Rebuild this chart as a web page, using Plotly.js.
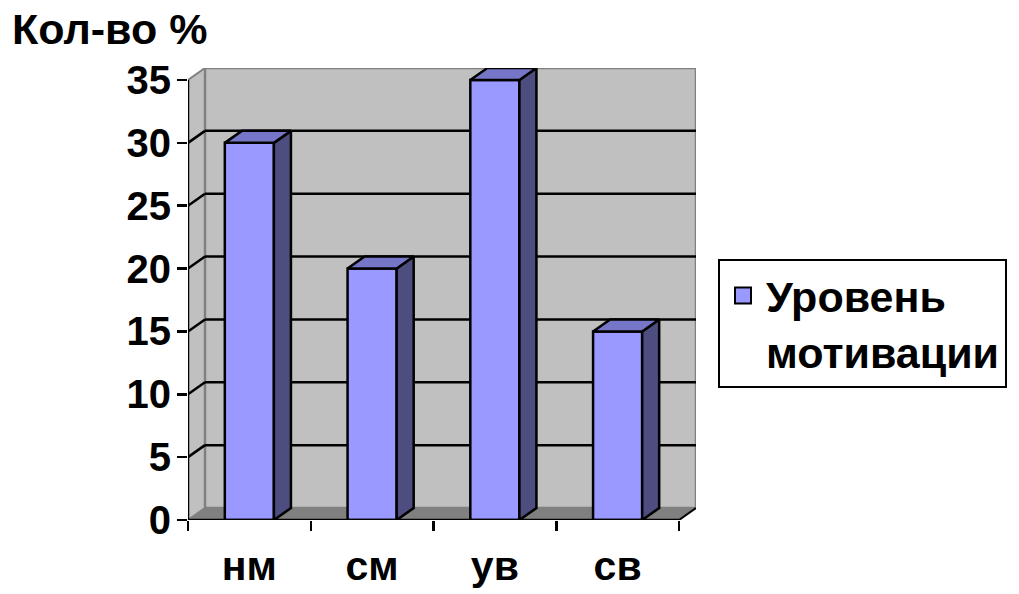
<!DOCTYPE html>
<html>
<head>
<meta charset="utf-8">
<script src="https://cdn.plot.ly/plotly-3.0.1.min.js"></script>
<style>html,body{margin:0;padding:0;background:#fff;}#chart{width:1019px;height:594px;}</style>
</head>
<body>
<div id="chart"></div>
<script>
// ---- data ----
const categories = ['нм', 'см', 'ув', 'св'];
const values = [30, 20, 35, 15];
const yTickValues = [0, 5, 10, 15, 20, 25, 30, 35];
const seriesName = 'Уровень<br>мотивации';
const chartTitle = 'Кол-во %';

// ---- styling / 3D projection ----
const FAMILY = 'Liberation Sans, Arial, sans-serif';
const fontOf = s => ({family: FAMILY, size: s, color: '#000', weight: 700});
const FRONT = '#9999ff', SIDE = '#4d4d80', TOP = '#7676c8';
const DX = 0.1385;   // depth offset in x units
const DY = 0.955;    // depth offset in y units
const BW = 0.4;      // bar width
const YMAX = yTickValues[yTickValues.length - 1];
const X0 = -0.5, X1 = categories.length - 0.5;
const xPos = categories.map((c, i) => i);

const shapes = [];
// floor
shapes.push({type: 'path', xref: 'x', yref: 'y', layer: 'below',
  path: `M${X0},0 L${X1},0 L${X1 + DX},${DY} L${X0 + DX},${DY} Z`,
  fillcolor: '#808080', line: {color: '#808080', width: 1}});
// left side wall
shapes.push({type: 'path', xref: 'x', yref: 'y', layer: 'below',
  path: `M${X0},0 L${X0 + DX},${DY} L${X0 + DX},${YMAX + DY} L${X0},${YMAX} Z`,
  fillcolor: '#c0c0c0', line: {color: '#808080', width: 2}});
// back wall
shapes.push({type: 'rect', xref: 'x', yref: 'y', layer: 'below',
  x0: X0 + DX, x1: X1 + DX, y0: DY, y1: YMAX + DY,
  fillcolor: '#c0c0c0', line: {color: '#808080', width: 2.5}});
// gridlines on walls
yTickValues.forEach(v => {
  if (v === 0 || v === YMAX) return;
  shapes.push({type: 'line', xref: 'x', yref: 'y', layer: 'below',
    x0: X0 + DX, x1: X1 + DX, y0: v + DY, y1: v + DY, line: {color: '#000', width: 2.5}});
  shapes.push({type: 'line', xref: 'x', yref: 'y', layer: 'below',
    x0: X0, x1: X0 + DX, y0: v, y1: v + DY, line: {color: '#000', width: 2.5}});
});
// front floor edge line (right)
shapes.push({type: 'line', xref: 'x', yref: 'y', layer: 'below',
  x0: X1, x1: X1 + DX, y0: 0, y1: DY, line: {color: '#000', width: 2}});
// axis lines
shapes.push({type: 'line', xref: 'x', yref: 'y', layer: 'above',
  x0: X0, x1: X1, y0: 0, y1: 0, line: {color: '#000', width: 2.5}});
shapes.push({type: 'line', xref: 'x', yref: 'y', layer: 'above',
  x0: X0, x1: X0, y0: 0, y1: YMAX, line: {color: '#000', width: 2.5}});

const traces = [];
// front faces
traces.push({type: 'bar', x: xPos, y: values, width: BW, name: seriesName,
  marker: {color: FRONT, line: {color: '#000', width: 2.5}},
  hoverinfo: 'skip', showlegend: false, legendgroup: 's'});
// side and top faces
values.forEach((v, i) => {
  const r = i + BW / 2, l = i - BW / 2;
  traces.push({type: 'scatter', mode: 'lines', fill: 'toself', fillcolor: SIDE,
    x: [r, r + DX, r + DX, r, r], y: [0, DY, v + DY, v, 0],
    line: {color: '#000', width: 2.5}, showlegend: false, hoverinfo: 'skip', xaxis: 'x2'});
  traces.push({type: 'scatter', mode: 'lines', fill: 'toself', fillcolor: TOP,
    x: [l, l + DX, r + DX, r, l], y: [v, v + DY, v + DY, v, v],
    line: {color: '#000', width: 2.5}, showlegend: false, hoverinfo: 'skip', xaxis: 'x2'});
});
// legend entry (square swatch)
traces.push({type: 'scatter', mode: 'markers', x: [null], y: [null], name: seriesName,
  legendgroup: 's', showlegend: true, hoverinfo: 'skip',
  marker: {symbol: 'square', size: 22, color: FRONT, line: {color: '#000', width: 2}}});

const layout = {
  width: 1019, height: 594,
  margin: {l: 188, r: 323, t: 68, b: 74},
  paper_bgcolor: '#fff', plot_bgcolor: 'rgba(0,0,0,0)',
  font: fontOf(40),
  title: {text: chartTitle, font: fontOf(43), xref: 'container', yref: 'container',
    x: 12 / 1019, xanchor: 'left', y: 1 - 29 / 594, yanchor: 'middle'},
  showlegend: true,
  legend: {xref: 'container', yref: 'container', x: 718 / 1019, y: 1 - 259 / 594,
    xanchor: 'left', yanchor: 'top', bgcolor: '#fff', bordercolor: '#000', borderwidth: 2,
    font: fontOf(43), itemwidth: 36, itemsizing: 'trace', valign: 'top', itemclick: false},
  xaxis: {range: [X0, X1 + DX], tickvals: xPos, ticktext: categories, ticks: '',
    showgrid: false, zeroline: false, showline: false, fixedrange: true,
    ticklabelstandoff: 18, tickfont: fontOf(41)},
  xaxis2: {overlaying: 'x', matches: 'x', anchor: 'y', side: 'bottom',
    range: [X0, X1 + DX], tickvals: xPos.map(i => i - 0.5).concat([X1]),
    ticks: 'outside', ticklen: 10, tickwidth: 2.5, tickcolor: '#000',
    showticklabels: false, showgrid: false, zeroline: false, showline: false},
  yaxis: {range: [0, YMAX + DY], tickvals: yTickValues, ticks: 'outside', ticklen: 10,
    tickwidth: 2.5, tickcolor: '#000', showgrid: false, zeroline: false, showline: false,
    tickfont: fontOf(40), ticklabelstandoff: -2, fixedrange: true},
  shapes: shapes,
  bargap: 0
};

Plotly.newPlot('chart', traces, layout, {displayModeBar: false, staticPlot: true});
</script>
</body>
</html>
